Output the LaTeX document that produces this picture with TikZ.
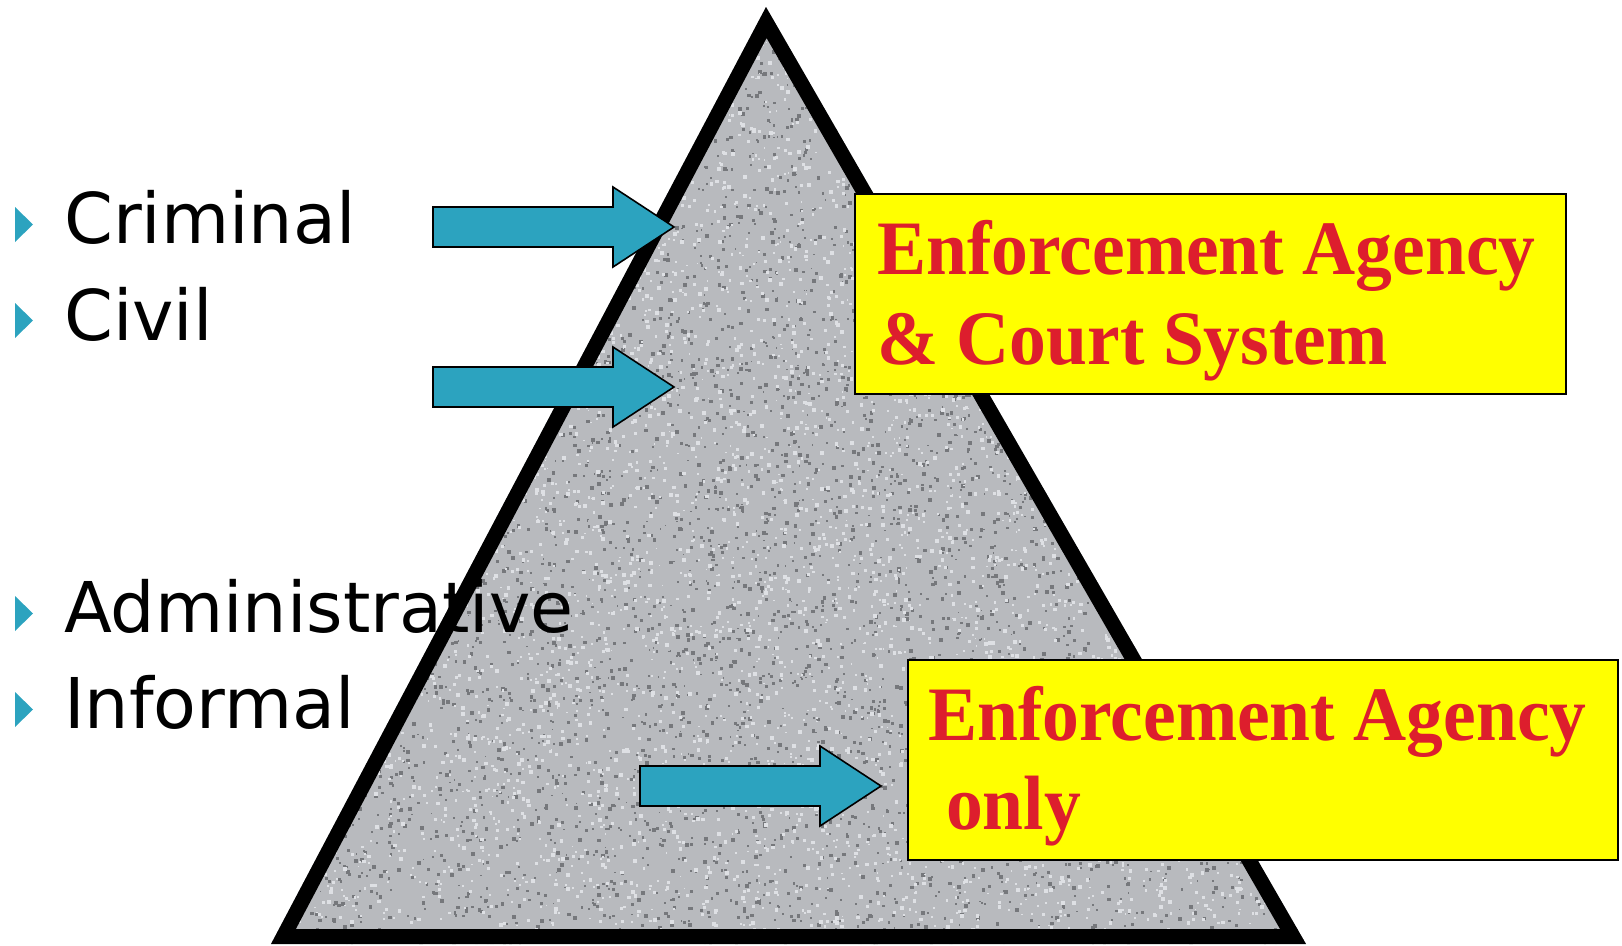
\documentclass[tikz,border=0pt]{standalone}
\usepackage{fontspec}
\newfontfamily\bulletfont{DejaVu Sans}
\newfontfamily\boxfont[FakeStretch=0.955]{Liberation Serif Bold}
\definecolor{arrowblue}{RGB}{44,163,191}
\definecolor{boxred}{RGB}{221,30,45}
\definecolor{boxyellow}{RGB}{255,255,0}
\definecolor{granite}{RGB}{184,186,190}
\definecolor{speckdark}{RGB}{118,120,124}
\definecolor{specklight}{RGB}{222,224,228}
\newcommand\blockarrow[2]{%
  \draw[bluearrow] (#1-241,#2-20) -- (#1-61,#2-20) -- (#1-61,#2-40) -- (#1,#2)
     -- (#1-61,#2+40) -- (#1-61,#2+20) -- (#1-241,#2+20) -- cycle;}
\newcommand\bulletmark[2]{%
  \fill[bulletfill] (#1,#2-17.5) -- (#1+18,#2) -- (#1,#2+17.5) -- cycle;}
\newcommand\speck[1]{%
  \pgfmathsetmacro\spt{sqrt(rnd)}%
  \pgfmathsetmacro\spy{7+937*\spt}%
  \pgfmathsetmacro\spx{766-495*\spt+1035*\spt*rnd}%
  \pgfmathsetmacro\sps{1.5+2.5*rnd}%
  \fill[#1] (\spx,\spy) rectangle ++(\sps,\sps);}
\begin{document}
\begin{tikzpicture}[x=1pt,y=-1pt,
  bullettext/.style={anchor=base west, inner sep=0pt, font=\bulletfont\fontsize{70}{84}\selectfont},
  boxtext/.style={anchor=base west, inner sep=0pt, text=boxred, font=\boxfont\fontsize{77}{90}\selectfont},
  labelbox/.style={draw=black, line width=1.5pt, fill=boxyellow, inner sep=0pt, anchor=north west},
  bluearrow/.style={draw=black, line width=1.6pt, fill=arrowblue, line join=miter},
  bulletfill/.style={fill=arrowblue},
  darkspeck/.style={fill=speckdark},
  lightspeck/.style={fill=specklight}]
\useasboundingbox (0,0) rectangle (1622,945);
% pyramid
\coordinate (apex) at (766,7);
\coordinate (bl) at (271,944);
\coordinate (br) at (1306,944);
\begin{scope}
  \clip (apex) -- (bl) -- (br) -- cycle;
  \fill[granite] (271,7) rectangle (1306,944);
  \pgfmathsetseed{7}
  \foreach \i in {1,...,3300} {\speck{darkspeck}}
  \foreach \i in {1,...,3300} {\speck{lightspeck}}
  \draw[line width=30pt, line join=miter] (apex) -- (bl) -- (br) -- cycle;
\end{scope}
% arrows
\blockarrow{674}{227}
\blockarrow{674}{387}
\blockarrow{881}{786}
% boxes
\node[labelbox, minimum width=711pt, minimum height=200pt] (courtbox) at (854,193) {};
\node[boxtext] (courtA) at (877,274) {Enforcement Agency};
\node[boxtext] (courtB) at (877,364) {\& Court System};
\node[labelbox, minimum width=710pt, minimum height=200pt] (agencybox) at (907,659) {};
\node[boxtext] (agencyA) at (928,740) {Enforcement Agency};
\node[boxtext] (agencyB) at (946,829) {only};
% bullet list
\bulletmark{15}{224.5}
\bulletmark{15}{320.5}
\bulletmark{15}{613.5}
\bulletmark{15}{709.5}
\node[bullettext] (criminal) at (64,243) {Criminal};
\node[bullettext] (civil) at (64,340) {Civil};
\node[bullettext] (admin) at (64,632) {Administrative};
\node[bullettext] (informal) at (64,728) {Informal};
\end{tikzpicture}
\end{document}
